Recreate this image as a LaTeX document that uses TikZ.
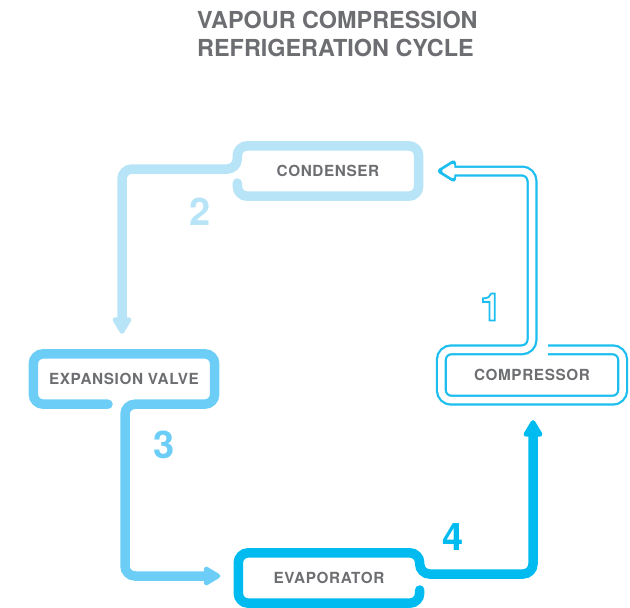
\documentclass[tikz,border=0pt]{standalone}
\usepackage{fontspec}
\setmainfont{TeX Gyre Heros}
\usetikzlibrary{arrows.meta,calc}
\definecolor{vcgray}{RGB}{109,110,113}
\definecolor{vcone}{RGB}{28,190,240}
\definecolor{vctwo}{RGB}{184,228,248}
\definecolor{vcthree}{RGB}{108,206,246}
\definecolor{vcfour}{RGB}{0,187,240}
% stroke the glyphs instead of filling them
\newcommand{\outlinetext}[1]{\special{pdf:literal direct 1 Tr 1.8 w}#1\special{pdf:literal direct 0 Tr}}

\begin{document}
\begin{tikzpicture}[x=1pt,y=-1pt,>=Latex,every node/.style={align=center,text=vcgray},
    stage/.style={minimum width=181pt,minimum height=50pt,inner sep=0pt,font=\bfseries\fontsize{15.3}{18}\selectfont\addfontfeature{LetterSpace=4}},
    pipe/.style={line width=9.5pt,line cap=round,rounded corners=10pt,-{Triangle[width=21pt,length=19pt,round]}},
    outlinepipe/.style={preaction={draw=vcone,line width=11pt,shorten >=0pt,-{Triangle[width=24pt,length=21pt,round]}},
      draw=white,line width=6.5pt,line cap=round,rounded corners=10pt,shorten >=4.5pt,-{Triangle[width=16pt,length=14pt,round]}},
    num/.style={inner sep=0pt,font=\bfseries\fontsize{38}{40}\selectfont}]
    \useasboundingbox (0,0) rectangle (630,608);
    \node[anchor=west,inner sep=0pt,align=left,font=\bfseries\fontsize{23.4}{28.4}\selectfont] (title) at (197,34) {VAPOUR COMPRESSION\\REFRIGERATION CYCLE};
    \node[stage] (cond) at (328,171) {CONDENSER};
    \node[stage] (expv) at (124,379) {EXPANSION VALVE};
    \node[stage] (evap) at (329,578) {EVAPORATOR};
    \node[stage] (comp) at (532,375) {COMPRESSOR};
    % each stage wraps round its label and runs on to the next one
    \draw[pipe,vctwo] ($(cond.west)+(0,12)$) -- (cond.south west) -- (cond.south east) -- (cond.north east) -- (cond.north west) -- ($(cond.west)+(0,-2)$) -| ($(expv.north)+(-2,-20)$);
    \draw[pipe,vcthree] ($(expv.south)+(-16,0)$) -- (expv.south west) -- (expv.north west) -- (expv.north east) -- (expv.south east) -- ($(expv.south)+(1,0)$) |- ($(evap.west)+(-18,-2)$);
    \draw[pipe,vcfour] ($(evap.east)+(0,12)$) -- (evap.south east) -- (evap.south west) -- (evap.north west) -- (evap.north east) -- ($(evap.east)+(0,-4)$) -| ($(comp.south)+(1,20)$);
    \draw[outlinepipe] ($(comp.north)+(16,0)$) -- (comp.north east) -- (comp.south east) -- (comp.south west) -- (comp.north west) -- (comp.north) |- ($(cond.east)+(19,0)$);
    \node[num,text=vctwo] (two) at (200,212) {2};
    \node[num,text=vcthree] (three) at (164,445) {3};
    \node[num,text=vcfour] (four) at (453,537) {4};
    \node[num,text=vcone] (one) at (491,307) {\outlinetext{1}};
\end{tikzpicture}
\end{document}
